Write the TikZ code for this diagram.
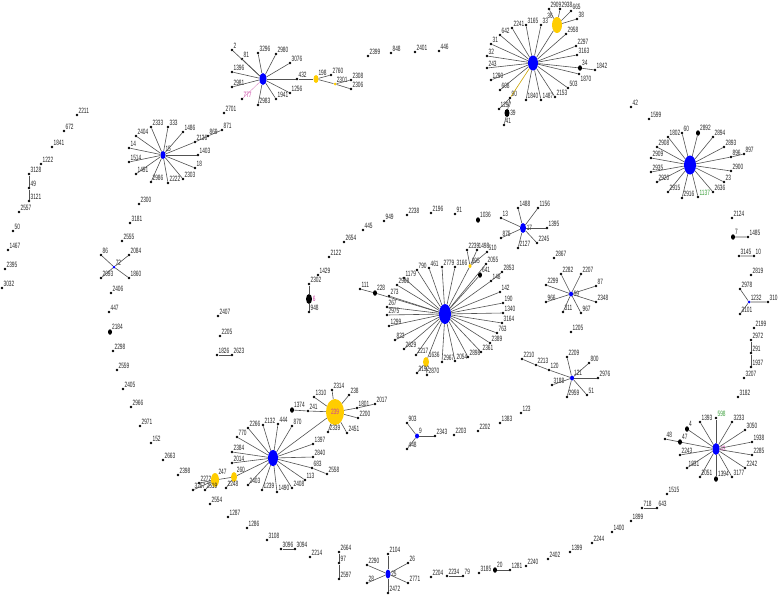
\documentclass[tikz,border=0pt]{standalone}
\usepackage{fontspec}
\newfontfamily\labfont[FakeStretch=0.62]{Liberation Sans}
\usetikzlibrary{shapes.geometric}
\definecolor{gold}{RGB}{255,205,0}
\definecolor{pinkl}{RGB}{200,60,160}
\definecolor{greenl}{RGB}{60,160,60}
\tikzset{
 dotn/.style={circle,fill=black,inner sep=0pt,minimum size=2.6pt},
 bigdot/.style={ellipse,fill=black,inner sep=0pt,minimum width=4pt,minimum height=5.5pt},
 lab/.style={font=\labfont\fontsize{7.7}{7.7}\selectfont,inner sep=0.4pt,text=black!85},
 hub/.style={ellipse,fill=blue,inner sep=0pt},
 yel/.style={ellipse,fill=gold,inner sep=0pt},
 edge/.style={draw=black!68,line width=0.6pt},
}
\newcommand\D[3]{\node[dotn,label={[lab]north east:#1}] (n#1) at (#2,#3) {};}
\newcommand\B[3]{\node[bigdot,label={[lab]north east:#1}] (n#1) at (#2,#3) {};}
\newcommand\DX[4]{\node[dotn,label={[lab]north east:#2}] (n#1) at (#3,#4) {};}
\begin{document}
\begin{tikzpicture}[x=1pt,y=-1pt]
\useasboundingbox (0,0) rectangle (778,597);
\fill[white] (0,0) rectangle (778,597);
% far left arc
\D{2211}{77}{115}\D{672}{64}{131}\D{1841}{52}{147}\D{1222}{41}{164}
\D{3128}{29}{174}\D{49}{29}{188}\D{3121}{29}{201}\D{2557}{19}{212}
\D{50}{13}{231}\D{1467}{8}{250}\D{2395}{5}{269}\D{3032}{2}{288}
\draw[edge] (n3128)--(n49)--(n3121);
% left cluster
\node[hub,minimum width=5pt,minimum height=8pt,label={[lab]north east:15}] (hL) at (163,155) {};
\D{2404}{136}{136}\D{2333}{151}{127}\D{333}{168}{127}\D{1486}{183}{132}
\D{2136}{195}{142}\D{1403}{198}{155}\D{18}{195}{168}\D{2303}{183}{179}
\D{2222}{168}{183}\D{2986}{151}{182}\D{1491}{136}{174}\D{1514}{129}{162}\D{14}{129}{148}
\D{869}{208}{136}\D{871}{222}{130}\D{2701}{224}{113}
\foreach \t in {2404,2333,333,1486,2136,1403,18,2303,2222,2986,1491,1514,14} \draw[edge] (hL)--(n\t);
\draw[edge] (n2136)--(n869)--(n871);
% left arc lower
\D{2300}{139}{204}\D{3181}{130}{223}\D{2555}{122}{241}
\node[hub,minimum width=3pt,minimum height=3pt,label={[lab]north east:72}] (h72) at (114,267) {};
\D{86}{101}{255}\D{2084}{129}{255}\D{2093}{101}{278}\D{1860}{129}{278}
\foreach \t in {86,2084,2093,1860} \draw[edge] (h72)--(n\t);
\D{2406}{111}{293}\D{447}{109}{312}\B{2184}{110}{332}\D{2298}{113}{351}
\D{2559}{117}{370}\D{2405}{123}{389}\D{2966}{131}{407}\D{2971}{140}{426}
\D{152}{151}{443}\D{2663}{163}{460}\D{2398}{178}{475}
% top-left-centre cluster
\node[hub,minimum width=7pt,minimum height=12pt] (hT) at (263,79) {};
\D{2}{232}{50}\D{81}{242}{59}\D{1396}{232}{72}\D{2981}{232}{87}
\node[dotn,label={[lab,text=pinkl]north east:777}] (n777) at (242,99) {};
\D{2983}{258}{105}\D{1941}{276}{99}\D{1256}{290}{93}\D{3296}{258}{53}
\D{2980}{276}{54}\D{3076}{290}{63}\D{432}{297}{79}
\node[yel,minimum width=5pt,minimum height=8pt,label={[lab]north east:198}] (n198) at (316,79) {};
\D{2760}{331}{75}
\node[yel,minimum width=3pt,minimum height=3pt,label={[lab]north east:2301}] (n2301) at (335,84) {};
\D{2308}{351}{80}\D{2306}{351}{89}
\foreach \t in {2,81,1396,2981,2983,1941,1256,3296,2980,3076,432} \draw[edge] (hT)--(n\t);
\draw[edge,draw=pinkl!60,line width=0.4pt] (hT)--(n777);
\draw[edge] (n432)--(n198);
\draw[edge] (n198)--(n2760) (n198)--(n2301) (n2301)--(n2306) (n2301)--(n2308);
\D{2399}{368}{56}\D{848}{391}{53}\D{2401}{415}{52}\D{446}{439}{51}
% top-right cluster
\node[hub,minimum width=10pt,minimum height=15pt] (hR) at (533,63) {};
\D{33}{541}{25}\D{3165}{526}{25}\D{2241}{512}{28}\D{642}{500}{35}\D{31}{491}{44}
\D{32}{487}{56}\D{243}{487}{68}\D{1290}{491}{80}\D{608}{500}{90}\D{90}{510}{98}
\D{1840}{526}{100}\D{1487}{541}{100}\D{2153}{555}{97}\D{503}{568}{88}
\node[dotn,label={[lab]south east:1870}] (n1870) at (579,74) {};
\B{34}{580}{68}\D{3163}{577}{55}\D{2297}{576}{46}\D{2958}{566}{34}
\node[yel,minimum width=10pt,minimum height=16pt,label={[lab]north west:36}] (n36) at (557,25) {};
\D{1842}{595}{70}\D{1297}{499}{109}
\node[ellipse,fill=black,inner sep=0pt,minimum width=5pt,minimum height=8pt,label={[lab]east:39}] (n39) at (507,113) {};
\D{41}{504}{125}
\DX{2909b}{2909}{549}{9}\D{2938}{560}{9}\D{665}{571}{11}\D{38}{577}{19}
\foreach \t in {33,3165,2241,642,31,32,243,1290,608,1840,1487,2153,503,1870,34,3163,2297,2958,36} \draw[edge] (hR)--(n\t);
\draw[edge,draw=gold!80!black] (hR)--(n90);
\draw[edge] (n34)--(n1842) (n90)--(n1297) (n90)--(n39) (n39)--(n41);
\foreach \t in {2909b,2938,665,38} \draw[edge] (n36)--(n\t);
\D{42}{631}{107}\D{1599}{649}{119}
% right cluster
\node[hub,minimum width=12pt,minimum height=19pt] (hQ) at (690,165) {};
\D{2908}{657}{147}\D{1802}{668}{137}\D{60}{682}{133}\B{2892}{698}{133}
\D{2894}{713}{137}\D{2893}{724}{147}\D{896}{731}{157}\D{2900}{731}{171}
\D{23}{724}{182}\D{2636}{713}{192}
\node[dotn,label={[lab,text=greenl]north east:1137}] (n1137) at (698,197) {};
\D{2916}{682}{198}\D{2915}{668}{192}\D{2920}{657}{182}\D{2935}{651}{172}\D{2909}{651}{158}
\D{897}{744}{154}
\foreach \t in {2908,1802,60,2892,2894,2893,896,2900,23,2636,1137,2916,2915,2920,2935,2909} \draw[edge] (hQ)--(n\t);
\draw[edge] (n896)--(n897);
% right column
\D{2124}{732}{218}\B{7}{733}{237}\D{1485}{748}{237}\D{3145}{739}{256}\D{10}{754}{256}
\D{2819}{751}{275}\D{2978}{740}{289}
\node[hub,minimum width=3pt,minimum height=3pt,label={[lab]north east:1232}] (h1232) at (749,302) {};
\D{310}{768}{302}\D{3101}{740}{314}
\D{2199}{754}{328}\D{2972}{751}{340}\D{291}{751}{353}\D{1937}{751}{367}
\D{3207}{744}{378}\D{3182}{738}{397}
\draw[edge] (n7)--(n1485) (n3145)--(n10) (h1232)--(n2978) (h1232)--(n310) (h1232)--(n3101);
\draw[edge] (n2972)--(n291)--(n1937);
% right bottom cluster
\node[hub,minimum width=7pt,minimum height=12pt,label={[lab,text=pinkl]east:43}] (hS) at (716,449) {};
\D{1393}{700}{422}
\node[dotn,label={[lab,text=greenl]north east:598}] (n598) at (716,418) {};
\D{3233}{732}{422}\D{3050}{745}{430}\D{1938}{752}{442}\D{2285}{752}{455}
\D{2242}{745}{468}\D{3177}{732}{477}\B{1394}{716}{479}\D{2051}{700}{477}
\D{1831}{687}{468}\D{2243}{680}{455}\B{47}{680}{442}\B{4}{687}{429}\D{48}{665}{439}
\foreach \t in {1393,598,3233,3050,1938,2285,2242,3177,1394,2051,1831,2243,47,4} \draw[edge] (hS)--(n\t);
\draw[edge] (n47)--(n48);
\D{1515}{667}{494}\D{718}{642}{508}\D{643}{657}{508}\D{1899}{631}{521}
\D{1400}{612}{532}\D{2244}{592}{543}
\draw[edge] (n718)--(n643);
% bottom arc
\D{1399}{570}{552}\D{2402}{548}{559}\D{2240}{526}{566}\D{1281}{510}{570}\B{20}{495}{570}
\D{3185}{479}{573}\D{2234}{447}{576}\D{79}{463}{576}\D{2204}{431}{577}
\draw[edge] (n20)--(n1281) (n2234)--(n79);
\node[hub,minimum width=5pt,minimum height=9pt,label={[lab]east:25}] (hB) at (388,574) {};
\D{2104}{388}{554}\D{2290}{367}{565}\D{28}{367}{583}\D{2472}{388}{593}\D{26}{408}{563}\D{2771}{408}{583}
\foreach \t in {2104,2290,28,2472,26,2771} \draw[edge] (hB)--(n\t);
\D{2664}{339}{552}\D{97}{339}{563}\D{2597}{339}{579}
\draw[edge] (n2664)--(n97)--(n2597);
\D{2214}{310}{557}\D{3096}{281}{549}\D{3094}{295}{549}\D{3108}{267}{540}
\D{1286}{247}{528}\D{1287}{228}{517}\D{2554}{210}{504}
\draw[edge] (n3096)--(n3094);
% bottom-left cluster
\node[hub,minimum width=10pt,minimum height=16pt] (hC) at (273,458) {};
\D{870}{292}{426}\D{444}{278}{424}\D{2132}{263}{425}\D{2266}{248}{428}\D{770}{237}{437}
\D{2384}{232}{452}\D{2014}{232}{463}\D{2403}{248}{485}\D{1239}{262}{490}\D{1490}{277}{492}
\D{2408}{292}{488}\D{113}{305}{480}\D{683}{312}{468}\D{2558}{327}{474}\D{2840}{313}{457}\D{1397}{313}{444}
\node[yel,minimum width=6pt,minimum height=10pt,label={[lab]north east:260}] (n260) at (234,477) {};
\node[yel,minimum width=8pt,minimum height=14pt,label={[lab]north east:247}] (n247) at (215,480) {};
\D{2248}{226}{488}\D{2272}{199}{483}\D{2519}{205}{490}\D{3257}{193}{490}
\node[yel,minimum width=18pt,minimum height=26pt,label={[lab,text=pinkl]center:239}] (n239) at (335,412) {};
\D{1310}{314}{397}\D{2314}{332}{390}\D{238}{349}{395}\D{1801}{357}{408}\D{2017}{375}{404}
\D{2200}{358}{418}\D{2451}{347}{433}\D{2339}{328}{432}\D{241}{308}{411}\B{1374}{292}{410}
\foreach \t in {870,444,2132,2266,770,2384,2014,260,2403,1239,1490,2408,113,683,2840,1397,239} \draw[edge] (hC)--(n\t);
\draw[edge] (n683)--(n2558) (n260)--(n2248) (n260)--(n247);
\foreach \t in {2272,2519,3257} \draw[edge] (n247)--(n\t);
\foreach \t in {1310,2314,238,1801,2200,2451,2339,241} \draw[edge] (n239)--(n\t);
\draw[edge] (n1801)--(n2017) (n241)--(n1374);
% middle-left column
\D{2407}{218}{316}\D{2205}{220}{336}\D{1826}{217}{355}\D{2623}{232}{355}
\draw[edge] (n1826)--(n2623);
\D{2302}{309}{284}
\node[ellipse,fill=black,inner sep=0pt,minimum width=6pt,minimum height=10pt,label={[lab,text=pinkl]east:6}] (n6) at (309,299) {};
\D{948}{309}{312}
\draw[edge] (n2302)--(n6)--(n948);
\D{1429}{318}{275}\D{2122}{329}{257}\D{2654}{344}{242}\D{445}{363}{230}\D{949}{384}{221}
\D{2238}{407}{215}\D{2196}{431}{213}\D{91}{455}{214}\B{1036}{478}{220}
% centre cluster
\node[hub,minimum width=12pt,minimum height=20pt] (hM) at (445,314) {};
\B{228}{375}{293}\D{111}{360}{289}
\D{1179}{404}{278}\D{2968}{397}{285}\D{273}{389}{296}\D{267}{387}{307}\D{2975}{387}{315}
\D{1299}{389}{326}\D{823}{395}{340}\D{2629}{404}{349}\D{2217}{416}{355}
\node[yel,minimum width=6pt,minimum height=10pt,label={[lab]north east:1636}] (n1636) at (426,362) {};
\D{3192}{417}{373}\D{2870}{427}{375}
\D{2967}{442}{362}\D{2054}{455}{361}\D{2898}{468}{357}\D{2361}{481}{352}\D{2389}{490}{343}
\D{763}{497}{333}\D{3164}{502}{323}\D{1340}{503}{313}\D{190}{503}{303}\D{142}{500}{292}
\D{148}{491}{281}\D{2853}{502}{272}\B{641}{480}{275}\D{2055}{486}{264}
\node[yel,minimum width=3pt,minimum height=4pt,label={[lab]north east:695}] (n695) at (470,266) {};
\D{2239}{467}{250}\D{1498}{477}{250}\D{510}{487}{252}
\D{3166}{455}{267}\D{2779}{442}{267}\D{461}{429}{268}\D{790}{417}{270}
\foreach \t in {228,1179,2968,273,267,2975,1299,823,2629,2217,1636,2967,2054,2898,2361,2389,763,3164,1340,190,142,148,641,2055,695,3166,2779,461,790} \draw[edge] (hM)--(n\t);
\draw[edge] (n228)--(n111) (n1636)--(n3192) (n1636)--(n2870) (n148)--(n2853);
\foreach \t in {2239,1498,510} \draw[edge] (n695)--(n\t);
% hub 17
\node[hub,minimum width=6pt,minimum height=10pt,label={[lab]east:17}] (hN) at (523,228) {};
\D{1488}{518}{208}\D{1156}{538}{208}\D{1395}{547}{228}\D{2245}{537}{243}\D{2127}{518}{248}\D{875}{501}{238}\D{13}{501}{218}
\foreach \t in {1488,1156,1395,2245,2127,875,13} \draw[edge] (hN)--(n\t);
\D{2867}{554}{258}\D{1205}{571}{332}
% hub 59
\node[hub,minimum width=4pt,minimum height=5pt,label={[lab]east:59}] (h59) at (571,294) {};
\D{2282}{561}{274}\D{2207}{581}{274}\D{87}{596}{286}\D{2348}{596}{302}\D{967}{581}{313}\D{311}{563}{312}\D{966}{546}{302}\D{2299}{546}{285}
\foreach \t in {2282,2207,87,2348,967,311,966,2299} \draw[edge] (h59)--(n\t);
% hub 121
\node[hub,minimum width=4pt,minimum height=5pt,label={[lab]north east:121}] (h121) at (572,378) {};
\D{2209}{567}{357}\D{800}{589}{363}\D{2976}{598}{378}\D{51}{587}{395}\D{2959}{567}{397}\D{3188}{552}{385}
\D{120}{549}{370}\D{2213}{536}{365}\D{2210}{522}{359}
\foreach \t in {2209,800,2976,51,2959,3188,120} \draw[edge] (h121)--(n\t);
\draw[edge] (n120)--(n2213)--(n2210);
% hub 9
\node[hub,minimum width=4pt,minimum height=5pt,label={[lab]north east:9}] (h9) at (417,436) {};
\D{903}{407}{423}\D{448}{407}{449}\D{2343}{435}{436}
\foreach \t in {903,448,2343} \draw[edge] (h9)--(n\t);
\D{2203}{454}{435}\D{2202}{478}{431}\D{1383}{500}{423}\D{123}{521}{413}
\end{tikzpicture}
\end{document}
